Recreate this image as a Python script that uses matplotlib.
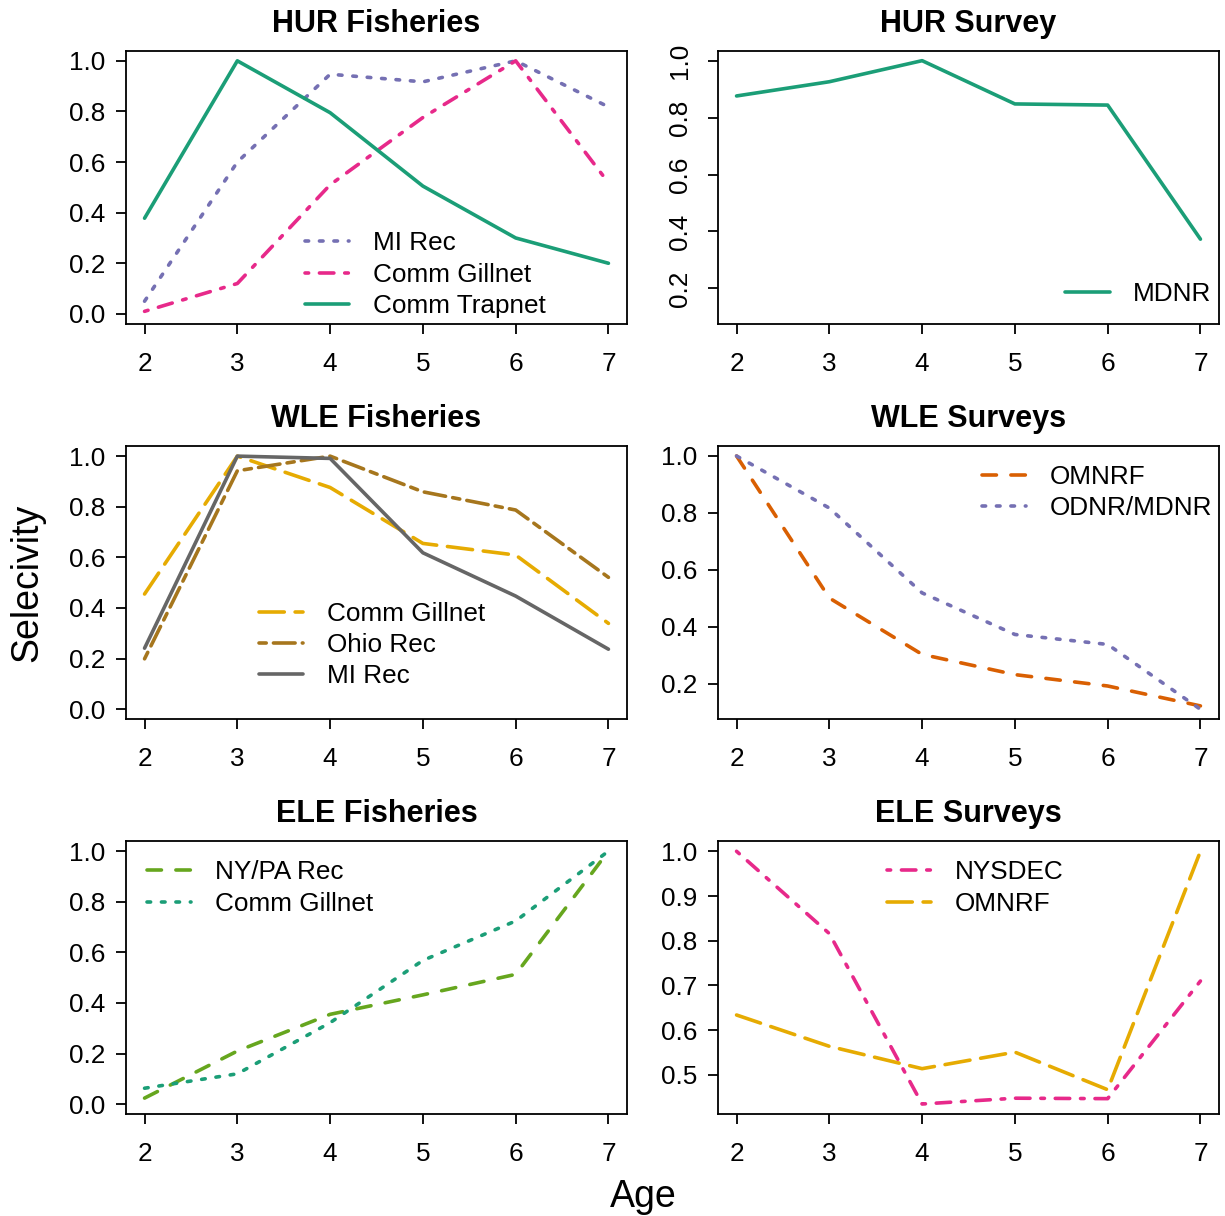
import numpy as np
import matplotlib
matplotlib.use("Agg")
import matplotlib.pyplot as plt

plt.rcParams['font.family'] = ['Liberation Sans', 'DejaVu Sans']

# ages and selectivity curves
ages = [2, 3, 4, 5, 6, 7]

hur_mi_rec = [0.05, 0.60, 0.947, 0.917, 1.0, 0.818]
hur_gillnet = [0.01, 0.12, 0.51, 0.776, 1.0, 0.518]
hur_trapnet = [0.378, 1.0, 0.795, 0.505, 0.300, 0.200]
hur_mdnr = [0.876, 0.926, 1.0, 0.848, 0.844, 0.373]

wle_gillnet = [0.455, 1.0, 0.876, 0.655, 0.609, 0.339]
wle_ohio_rec = [0.199, 0.942, 1.0, 0.859, 0.787, 0.521]
wle_mi_rec = [0.241, 1.0, 0.991, 0.618, 0.447, 0.237]
wle_omnrf = [1.0, 0.501, 0.303, 0.232, 0.192, 0.122]
wle_odnr_mdnr = [1.0, 0.817, 0.519, 0.373, 0.338, 0.110]

ele_nypa_rec = [0.024, 0.21, 0.355, 0.432, 0.513, 1.0]
ele_gillnet = [0.063, 0.12, 0.322, 0.568, 0.724, 1.0]
ele_nysdec = [1.0, 0.816, 0.435, 0.448, 0.447, 0.71]
ele_omnrf = [0.634, 0.564, 0.514, 0.551, 0.467, 1.0]

# Dark2 colours
teal = "#1B9E77"
orange = "#D95F02"
purple = "#7570B3"
pink = "#E7298A"
green = "#66A61E"
yellow = "#E6AB02"
brown = "#A6761D"
gray = "#666666"

# R line types (units of line width)
solid = "-"
dotted = (0, (1, 3))
dashed = (0, (4, 4))
dotdash = (0, (1, 3, 4, 3))
longdash = (0, (7, 3))
twodash = (0, (2, 2, 6, 2))

LW = 2.6
TICK_FS = 18.8

fig = plt.figure(figsize=(12.25, 12.16), dpi=100)

lefts = [126 / 1225, 718 / 1225]
bottoms = [1 - 324 / 1216, 1 - 719.3 / 1216, 1 - 1114.3 / 1216]
w = 501 / 1225
h = 273.3 / 1216

panels = [
    ("HUR Fisheries", 0, 0,
     [(hur_mi_rec, "MI Rec", purple, dotted),
      (hur_gillnet, "Comm Gillnet", pink, dotdash),
      (hur_trapnet, "Comm Trapnet", teal, solid)],
     (-0.04, 1.04), [0, 0.2, 0.4, 0.6, 0.8, 1.0], (0.357, 0.18), False),
    ("HUR Survey", 0, 1,
     [(hur_mdnr, "MDNR", teal, solid)],
     (0.075, 1.035), [0.2, 0.4, 0.6, 0.8, 1.0], (0.693, 0.110), True),
    ("WLE Fisheries", 1, 0,
     [(wle_gillnet, "Comm Gillnet", yellow, longdash),
      (wle_ohio_rec, "Ohio Rec", brown, twodash),
      (wle_mi_rec, "MI Rec", gray, solid)],
     (-0.04, 1.04), [0, 0.2, 0.4, 0.6, 0.8, 1.0], (0.265, 0.272), False),
    ("WLE Surveys", 1, 1,
     [(wle_omnrf, "OMNRF", orange, dashed),
      (wle_odnr_mdnr, "ODNR/MDNR", purple, dotted)],
     (0.075, 1.035), [0.2, 0.4, 0.6, 0.8, 1.0], (0.527, 0.830), False),
    ("ELE Fisheries", 2, 0,
     [(ele_nypa_rec, "NY/PA Rec", green, dashed),
      (ele_gillnet, "Comm Gillnet", teal, dotted)],
     (-0.04, 1.04), [0, 0.2, 0.4, 0.6, 0.8, 1.0], (0.042, 0.828), False),
    ("ELE Surveys", 2, 1,
     [(ele_nysdec, "NYSDEC", pink, dotdash),
      (ele_omnrf, "OMNRF", yellow, longdash)],
     (0.412, 1.023), [0.5, 0.6, 0.7, 0.8, 0.9, 1.0], (0.337, 0.828), False),
]

for title, row, col, series, ylim, yticks, leg_pos, rot in panels:
    ax = fig.add_axes([lefts[col], bottoms[row], w, h])
    for vals, label, color, ls in series:
        ax.plot(ages, vals, color=color, linestyle=ls, linewidth=LW, label=label,
                dash_capstyle="round", solid_capstyle="round",
                dash_joinstyle="round", solid_joinstyle="round")
    ax.set_xlim(1.8, 7.2)
    ax.set_ylim(*ylim)
    ax.set_xticks(ages)
    ax.set_yticks(yticks)
    ax.set_yticklabels([f"{t:.1f}" for t in yticks])
    for s in ax.spines.values():
        s.set_linewidth(1.3)
    ax.tick_params(axis="both", direction="out", length=7, width=1.3,
                   labelsize=TICK_FS)
    ax.tick_params(axis="x", pad=13)
    ax.tick_params(axis="y", pad=8)
    if rot:
        for lab in ax.get_yticklabels():
            lab.set_rotation(90)
            lab.set_va("center")
        ax.tick_params(axis="y", pad=12)
    ax.set_title(title, fontsize=22, fontweight="bold", pad=13.5)
    ax.legend(loc="center left", bbox_to_anchor=leg_pos, frameon=False,
              fontsize=TICK_FS, handlelength=1.7, handletextpad=0.9,
              labelspacing=0.28, borderpad=0, borderaxespad=0)

fig.text(27 / 1225, 1 - 583 / 1216, "Selecivity", rotation=90,
         ha="center", va="center", fontsize=27)
fig.text(643 / 1225, 1 - 1207 / 1216, "Age", ha="center", va="baseline",
         fontsize=27)

fig.savefig("out.png", dpi=100)
